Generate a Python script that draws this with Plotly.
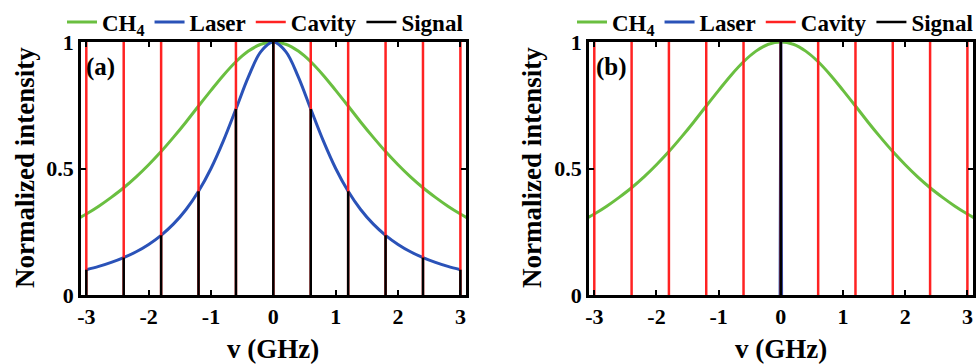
import plotly.graph_objects as go

# ---------------- data ----------------
freq = [-3.1, -3.0, -2.8, -2.6, -2.4, -2.2, -2.0, -1.8, -1.6, -1.4, -1.2, -1.0, -0.8, -0.6,
        -0.4, -0.2, 0.0, 0.2, 0.4, 0.6, 0.8, 1.0, 1.2, 1.4, 1.6, 1.8, 2.0, 2.2, 2.4, 2.6,
        2.8, 3.0, 3.1]
ch4 = [0.306, 0.320, 0.351, 0.386, 0.424, 0.467, 0.515, 0.567, 0.624, 0.684, 0.747, 0.809,
       0.869, 0.922, 0.964, 0.991, 1.000, 0.991, 0.964, 0.922, 0.869, 0.809, 0.747, 0.684,
       0.624, 0.567, 0.515, 0.467, 0.424, 0.386, 0.351, 0.320, 0.306]

laser_freq = [-3.0, -2.8, -2.6, -2.4, -2.2, -2.0, -1.8, -1.6, -1.4, -1.2, -1.0, -0.8, -0.6,
              -0.4, -0.2, 0.0, 0.2, 0.4, 0.6, 0.8, 1.0, 1.2, 1.4, 1.6, 1.8, 2.0, 2.2, 2.4,
              2.6, 2.8, 3.0]
laser_a = [0.100, 0.113, 0.129, 0.148, 0.171, 0.200, 0.236, 0.281, 0.338, 0.410, 0.500,
           0.610, 0.735, 0.862, 0.962, 1.000, 0.962, 0.862, 0.735, 0.610, 0.500, 0.410,
           0.338, 0.281, 0.236, 0.200, 0.171, 0.148, 0.129, 0.113, 0.100]

laser_b_freq = [-0.012, 0.0, 0.012]
laser_b = [0.0, 1.0, 0.0]

cavity = [-3.0, -2.4, -1.8, -1.2, -0.6, 0.0, 0.6, 1.2, 1.8, 2.4, 3.0]
signal_a = [0.100, 0.148, 0.236, 0.410, 0.735, 1.000, 0.735, 0.410, 0.236, 0.148, 0.100]
signal_b_freq = [0.0]
signal_b = [1.0]

xticks = [-3, -2, -1, 0, 1, 2, 3]
xtick_text = ["-3", "-2", "-1", "0", "1", "2", "3"]
yticks = [0, 0.5, 1]
ytick_text = ["0", "0.5", "1"]

# ---------------- styling ----------------
FONT = "Liberation Serif"
GREEN = "#6abf40"
BLUE = "#2a52b8"
RED = "#ff2222"
BLACK = "#000000"


def vlines(xs, y0s, y1s):
    xx, yy = [], []
    for x, a, b in zip(xs, y0s, y1s):
        xx += [x, x, None]
        yy += [a, b, None]
    return xx, yy


fig = go.Figure()

for k, (xa, ya, leg) in enumerate([("x", "y", "legend"), ("x2", "y2", "legend2")]):
    fig.add_trace(go.Scatter(x=freq, y=ch4, mode="lines", name="CH<sub>4</sub>",
                             line=dict(color=GREEN, width=3, shape="spline"),
                             xaxis=xa, yaxis=ya, legend=leg))
    if k == 0:
        fig.add_trace(go.Scatter(x=laser_freq, y=laser_a, mode="lines", name="Laser",
                                 line=dict(color=BLUE, width=3, shape="spline"),
                                 xaxis=xa, yaxis=ya, legend=leg))
    else:
        fig.add_trace(go.Scatter(x=laser_b_freq, y=laser_b, mode="lines", name="Laser",
                                 line=dict(color=BLUE, width=3),
                                 xaxis=xa, yaxis=ya, legend=leg))
    cx, cy = vlines(cavity, [0] * len(cavity), [1] * len(cavity))
    fig.add_trace(go.Scatter(x=cx, y=cy, mode="lines", name="Cavity",
                             line=dict(color=RED, width=2.5),
                             xaxis=xa, yaxis=ya, legend=leg))
    if k == 0:
        sx, sy = vlines(cavity, [0] * len(cavity), signal_a)
    else:
        sx, sy = vlines(signal_b_freq, [0] * len(signal_b_freq), signal_b)
    fig.add_trace(go.Scatter(x=sx, y=sy, mode="lines", name="Signal",
                             line=dict(color=BLACK, width=2.5),
                             xaxis=xa, yaxis=ya, legend=leg))

axis_common = dict(showline=True, linecolor="black", linewidth=2.5, mirror="ticks",
                   ticks="inside", ticklen=5, tickwidth=2, tickcolor="black",
                   showgrid=False, zeroline=False,
                   tickfont=dict(family=FONT, size=22, color="black", weight="bold"))

legend_font = dict(family=FONT, size=23, color="black", weight="bold")
ydom = [69 / 364, 322 / 364]
fig.update_layout(
    width=980, height=364,
    margin=dict(l=0, r=0, t=0, b=0, autoexpand=False),
    paper_bgcolor="white", plot_bgcolor="white",
    showlegend=True,
    xaxis=dict(domain=[81 / 980, 466 / 980], range=[-3.085, 3.09], tickvals=xticks,
               ticktext=xtick_text, anchor="y", **axis_common),
    yaxis=dict(domain=ydom, range=[0, 1], tickvals=yticks, ticktext=ytick_text,
               anchor="x", **axis_common),
    xaxis2=dict(domain=[589 / 980, 973 / 980], range=[-3.085, 3.09], tickvals=xticks,
                ticktext=xtick_text, anchor="y2", **axis_common),
    yaxis2=dict(domain=ydom, range=[0, 1], tickvals=yticks, ticktext=ytick_text,
                anchor="x2", **axis_common),
    legend=dict(orientation="h", x=62 / 980, y=1 - 22 / 364, xanchor="left", yanchor="middle",
                font=legend_font,
                bgcolor="rgba(0,0,0,0)", itemclick=False),
    legend2=dict(orientation="h", x=572 / 980, y=1 - 22 / 364, xanchor="left", yanchor="middle",
                 font=legend_font,
                 bgcolor="rgba(0,0,0,0)", itemclick=False),
)

title_font = dict(family=FONT, size=27, color="black", weight="bold")
ann = []
for cx_title, px in [(25, 273), (532, 781)]:
    ann.append(dict(text="Normalized intensity", x=cx_title / 980, y=1 - 168 / 364,
                    xref="paper", yref="paper", showarrow=False, textangle=-90,
                    font=title_font, xanchor="center", yanchor="middle"))
    ann.append(dict(text="v (GHz)", x=px / 980, y=1 - 349 / 364, xref="paper", yref="paper",
                    showarrow=False, font=title_font, xanchor="center", yanchor="middle"))
ann.append(dict(text="(a)", x=100 / 980, y=1 - 67 / 364, xref="paper", yref="paper",
                showarrow=False, font=dict(family=FONT, size=25, color="black", weight="bold"),
                xanchor="center", yanchor="middle"))
ann.append(dict(text="(b)", x=611 / 980, y=1 - 67 / 364, xref="paper", yref="paper",
                showarrow=False, font=dict(family=FONT, size=25, color="black", weight="bold"),
                xanchor="center", yanchor="middle"))
fig.update_layout(annotations=ann)

fig.write_html("out.html", config={"displayModeBar": False},
               post_script="document.body.style.margin='0';document.body.style.padding='0';")
